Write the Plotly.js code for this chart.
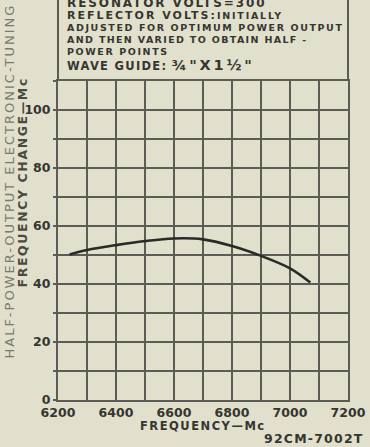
<!DOCTYPE html>
<html>
<head>
<meta charset="utf-8">
<script src="https://cdn.plot.ly/plotly-3.0.1.min.js"></script>
<style>html,body{margin:0;padding:0;background:#e1e0cd;}#chart{width:370px;height:447px;}</style>
</head>
<body>
<div id="chart"></div>
<script>
// Data
const freqMc = [6240, 6300, 6400, 6500, 6600, 6700, 6800, 6900, 7000, 7070];
const tuningChangeMc = [50.2, 51.7, 53.4, 54.8, 55.7, 55.4, 53.1, 49.7, 45.4, 40.5];

const xTickVals = [6200, 6300, 6400, 6500, 6600, 6700, 6800, 6900, 7000, 7100, 7200];
const xTickText = ['6200', '', '6400', '', '6600', '', '6800', '', '7000', '', '7200'];
const yTickVals = [0, 10, 20, 30, 40, 50, 60, 70, 80, 90, 100, 110];
const yTickText = ['0', '', '20', '', '40', '', '60', '', '80', '', '100', ''];

const ink = '#363630';
const grid = '#5c5c55';
const FONT = 'DejaVu Sans, sans-serif';

function sp(t, ls, size) {
  return '<span style="letter-spacing:' + ls + 'px' + (size ? ';font-size:' + size + 'px' : '') + '">' + t + '</span>';
}

const noteLines = [
  sp('RESONATOR VOLTS=300', 1.9),
  sp('REFLECTOR VOLTS:', 2) + sp('INITIALLY', 1.8, 9.5),
  sp('ADJUSTED FOR OPTIMUM POWER OUTPUT', 1.6),
  sp('AND THEN VARIED TO OBTAIN HALF -', 1.35),
  sp('POWER POINTS', 1.6),
  sp('WAVE GUIDE:', 1.3) + ' ' + sp('¾"X1½"', 2.8, 14.5)
];
const noteY = [1.2441, 1.2050, 1.1681, 1.1315, 1.0939, 1.0516];
const noteSize = [12, 11, 9.5, 9.5, 9.5, 11.5];

const annotations = noteLines.map((t, i) => ({
  text: '<b>' + t + '</b>',
  xref: 'paper', yref: 'paper', x: 0.028, y: noteY[i],
  xanchor: 'left', yanchor: 'middle', showarrow: false, borderpad: 0,
  font: {family: FONT, size: noteSize[i], color: ink}
}));

annotations.push({
  text: sp('HALF-POWER-OUTPUT ELECTRONIC-TUNING', 2),
  xref: 'paper', yref: 'paper', x: -0.1666, y: 0.687, textangle: -90,
  xanchor: 'center', yanchor: 'middle', showarrow: false, borderpad: 0,
  font: {family: FONT, size: 13, color: '#7a7a6c'}
});
annotations.push({
  text: '<b>' + sp('FREQUENCY CHANGE—Mc', 1.6) + '</b>',
  xref: 'paper', yref: 'paper', x: -0.1217, y: 0.681, textangle: -90,
  xanchor: 'center', yanchor: 'middle', showarrow: false, borderpad: 0,
  font: {family: FONT, size: 12.5, color: '#4a4a42'}
});
annotations.push({
  text: '<b>' + sp('FREQUENCY—Mc', 1.5) + '</b>',
  xref: 'paper', yref: 'paper', x: 0.5, y: -0.081,
  xanchor: 'center', yanchor: 'middle', showarrow: false, borderpad: 0,
  font: {family: FONT, size: 11.5, color: ink}
});
annotations.push({
  text: '<b>' + sp('92CM-7002T', 1.2) + '</b>',
  xref: 'paper', yref: 'paper', x: 1.06, y: -0.121,
  xanchor: 'right', yanchor: 'middle', showarrow: false, borderpad: 0,
  font: {family: FONT, size: 12.5, color: ink}
});

const trace = {
  x: freqMc, y: tuningChangeMc, type: 'scatter', mode: 'lines',
  line: {color: '#2a2a26', width: 2.6, shape: 'spline', smoothing: 1},
  hoverinfo: 'skip'
};

const layout = {
  width: 370, height: 447,
  margin: {l: 58.3, r: 21.7, t: 81, b: 46.5},
  paper_bgcolor: '#e1e0cd', plot_bgcolor: '#e1e0cd',
  showlegend: false,
  font: {family: FONT, color: ink},
  xaxis: {
    range: [6200, 7200], tickmode: 'array', tickvals: xTickVals, ticktext: xTickText,
    showgrid: true, gridcolor: grid, gridwidth: 1.3, zeroline: false,
    showline: true, linecolor: grid, linewidth: 2, mirror: true,
    ticks: '',
    tickfont: {family: FONT, size: 12.5, color: ink, weight: 'bold'}
  },
  yaxis: {
    range: [0, 110], tickmode: 'array', tickvals: yTickVals, ticktext: yTickText,
    showgrid: true, gridcolor: grid, gridwidth: 1.3, zeroline: false,
    showline: true, linecolor: grid, linewidth: 2, mirror: true,
    ticks: 'outside', ticklen: 3, tickcolor: grid, tickwidth: 1.3,
    tickfont: {family: FONT, size: 12.5, color: ink, weight: 'bold'}
  },
  shapes: [
    {type: 'line', xref: 'paper', yref: 'paper', x0: 0, x1: 0, y0: 1, y1: 1.27, line: {color: grid, width: 2}},
    {type: 'line', xref: 'paper', yref: 'paper', x0: 1, x1: 1, y0: 1, y1: 1.27, line: {color: grid, width: 2}}
  ],
  annotations: annotations
};

Plotly.newPlot('chart', [trace], layout, {displayModeBar: false, staticPlot: true});
</script>
</body>
</html>
